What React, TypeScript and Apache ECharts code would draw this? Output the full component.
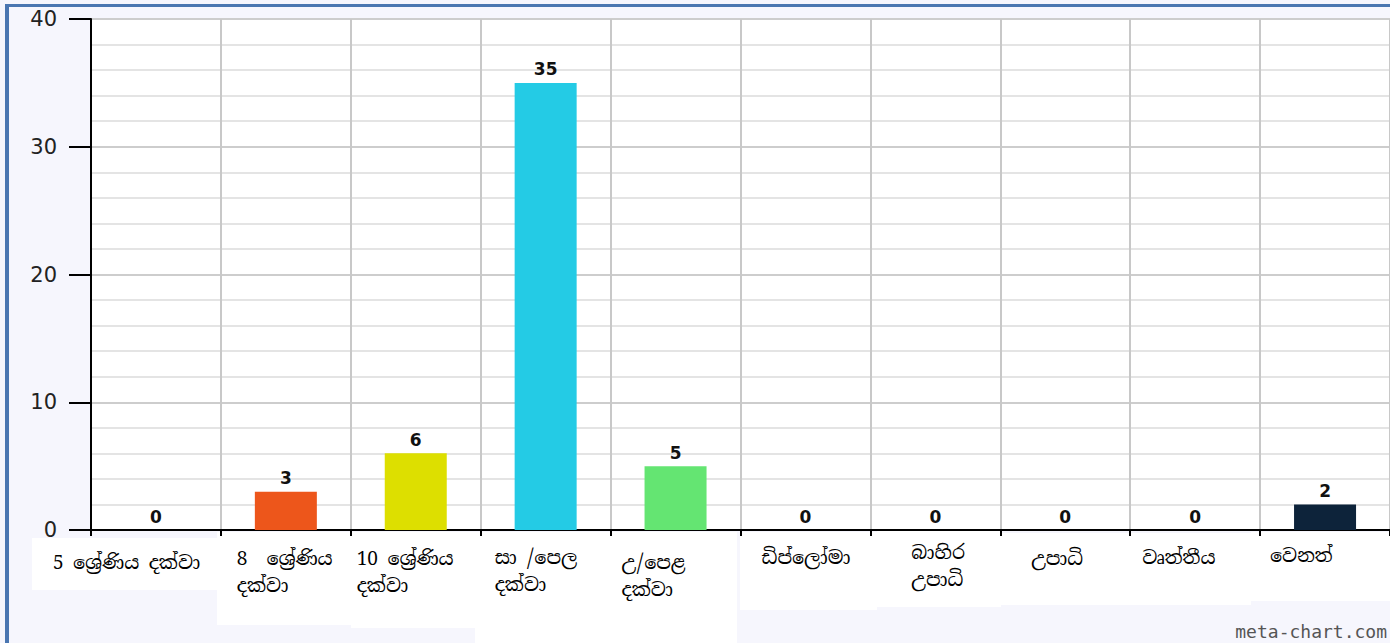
import React, { useEffect, useRef } from "react";
import * as echarts from "echarts";

const categories = [
  "5 ශ්‍රේණිය දක්වා",
  "8  ශ්‍රේණිය\nදක්වා",
  "10 ශ්‍රේණිය\nදක්වා",
  "සා /පෙල\nදක්වා",
  "උ/පෙළ\nදක්වා",
  "ඩිප්ලෝමා",
  "බාහිර\nඋපාධි",
  "උපාධි",
  "වෘත්තීය",
  "වෙනත්",
];
const values = [0, 3, 6, 35, 5, 0, 0, 0, 0, 2];
const barColors = [
  "#50B432", "#ED561B", "#DDDF00", "#24CBE5", "#64E572",
  "#FF9655", "#FFF263", "#6AF9C4", "#058DC7", "#0d233a",
];
const yTicks = [0, 10, 20, 30, 40];

// label layout helpers (styling only)
const labelWidths = [206, 98, 118, 102, 108, 88, 48, 68, 106, 110];
const labelPadTop = [22, 14, 14, 12, 22, 12, 2, 14, 12, 8];
const whiteBoxes = [
  [32, 538, 185, 52],
  [217, 532, 134, 93],
  [351, 532, 124, 96],
  [475, 532, 262, 111],
  [740, 532, 137, 78],
  [877, 530, 124, 77],
  [1001, 533, 250, 72],
  [1251, 532, 139, 69],
];

const sinhalaFont = "'Noto Serif Sinhala', 'Iskoola Pota', 'Noto Sans Sinhala', 'Liberation Serif', 'DejaVu Serif', serif";

export default function App() {
  const ref = useRef<HTMLDivElement>(null);
  useEffect(() => {
    if (!ref.current) return;
    const chart = echarts.init(ref.current, null, { renderer: "svg" });
    const rich: any = {};
    categories.forEach((_, i) => {
      const base = {
        width: labelWidths[i],
        align: "left",
        padding: [labelPadTop[i], 0, 0, 0],
        fontSize: 19,
        lineHeight: 27,
        fontFamily: sinhalaFont,
        color: "#000",
      };
      rich[`a${i}`] = { ...base };
      rich[`b${i}`] = { ...base };
    });
    const option: any = {
      animation: false,
      backgroundColor: "#f6f6fd",
      graphic: [
        ...whiteBoxes.map((b) => ({
          type: "rect",
          z: -10,
          silent: true,
          shape: { x: b[0], y: b[1], width: b[2], height: b[3] },
          style: { fill: "#ffffff" },
        })),
        {
          type: "rect",
          z: 100,
          silent: true,
          shape: { x: 5, y: 4, width: 1385, height: 3 },
          style: { fill: "#4a76b1" },
        },
        {
          type: "rect",
          z: 100,
          silent: true,
          shape: { x: 5, y: 4, width: 4, height: 639 },
          style: { fill: "#4a76b1" },
        },
        {
          type: "text",
          z: 100,
          silent: true,
          x: 1387,
          y: 631,
          style: {
            text: "meta-chart.com",
            fill: "#555555",
            font: "18px 'DejaVu Sans Mono', monospace",
            align: "right",
            verticalAlign: "middle",
          },
        },
      ],
      grid: {
        left: 91,
        right: 0,
        top: 19,
        bottom: 113,
        show: true,
        backgroundColor: "#ffffff",
        borderWidth: 0,
        containLabel: false,
      },
      xAxis: {
        type: "category",
        data: categories,
        boundaryGap: true,
        axisLine: { show: true, lineStyle: { color: "#000", width: 2 } },
        axisTick: { show: true, length: 6, lineStyle: { color: "#000", width: 2 } },
        splitLine: { show: true, lineStyle: { color: "#c8c8c8", width: 2 } },
        axisLabel: {
          interval: 0,
          margin: 8,
          align: "center",
          formatter: (value: string, index: number) =>
            value
              .split("\n")
              .map((l, k) => `{${k === 0 ? "a" : "b"}${index}|${l}}`)
              .join("\n"),
          rich,
        },
      },
      yAxis: {
        type: "value",
        min: yTicks[0],
        max: yTicks[yTicks.length - 1],
        interval: 10,
        axisLine: { show: true, lineStyle: { color: "#000", width: 2 } },
        axisTick: { show: true, length: 22, lineStyle: { color: "#000", width: 2 } },
        axisLabel: {
          margin: 34,
          color: "#222",
          fontSize: 21,
          fontFamily: "'DejaVu Sans', Verdana, sans-serif",
        },
        splitLine: { show: true, lineStyle: { color: "#cdcdcd", width: 2 } },
        minorTick: { show: false, splitNumber: 5 },
        minorSplitLine: { show: true, lineStyle: { color: "#e4e4e4", width: 2 } },
      },
      series: [
        {
          type: "bar",
          barWidth: 62,
          data: values.map((v, i) => ({ value: v, itemStyle: { color: barColors[i] } })),
          label: {
            show: true,
            position: "top",
            distance: 5,
            color: "#111",
            fontSize: 17,
            fontWeight: "bold",
            fontFamily: "'DejaVu Sans', Verdana, sans-serif",
          },
        },
      ],
    };
    chart.setOption(option);
    return () => chart.dispose();
  }, []);
  return (
    <div
      ref={ref}
      style={{ position: "fixed", left: 0, top: 0, width: 1390, height: 643 }}
    />
  );
}
